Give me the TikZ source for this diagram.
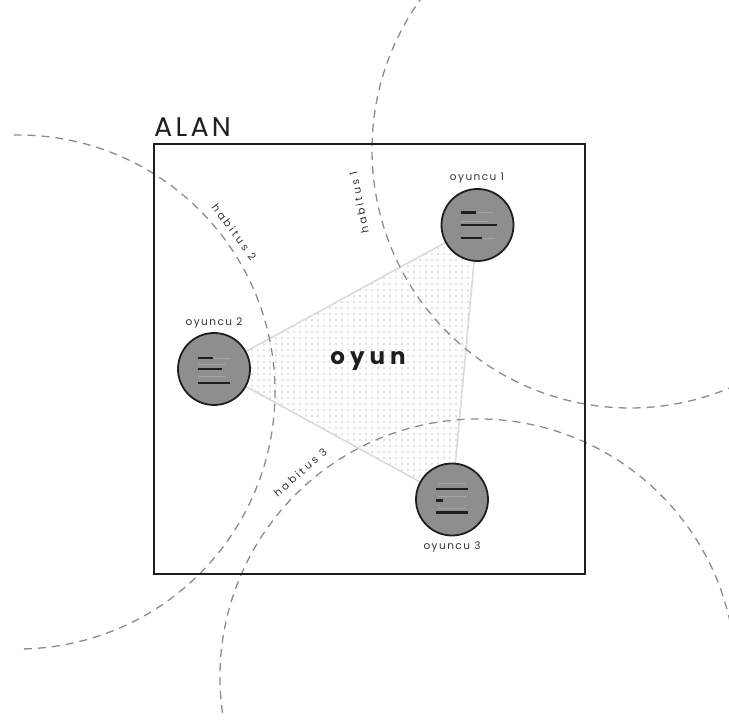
\documentclass[tikz,border=0pt]{standalone}
\usepackage{fontspec}
\setmainfont{Poppins}
\usetikzlibrary{calc,patterns.meta,backgrounds}
\definecolor{ink}{HTML}{1E1E1E}
\definecolor{disc}{HTML}{8E8E8E}
\definecolor{habgray}{HTML}{8C8C8C}
\definecolor{edgegray}{HTML}{DADADA}
\definecolor{dotgray}{HTML}{C2C2C2}
\definecolor{note}{HTML}{333333}

\begin{document}
\begin{tikzpicture}[x=1pt,y=1pt,
  player/.style={circle,draw=ink,line width=1.8pt,minimum size=72pt,inner sep=0pt,fill=disc},
  tag/.style={font=\addfontfeature{LetterSpace=14}\fontsize{10.5}{12}\selectfont,text=note,inner sep=0pt},
  habtag/.style={font=\addfontfeature{LetterSpace=24}\fontsize{10.5}{12}\selectfont,text=note,inner sep=0pt},
  habitus/.style={draw=habgray,line width=1.3pt,dash pattern=on 8pt off 6pt},
  bar/.style={draw=ink,line width=2.8pt},
  faint/.style={draw=ink!40,line width=0.7pt},
]
  \useasboundingbox (0,0) rectangle (729,722);
  \coordinate (h1) at (630,572);
  \coordinate (h2) at (18,330);
  \coordinate (h3) at (478,45);

  \begin{scope}
    \clip (0,0) rectangle (729,722);
    \draw[habitus] ($(h1)+(140:258)$) arc[start angle=140,end angle=295,radius=258];
    \draw[habitus] ($(h2)+(91:257)$) arc[start angle=91,end angle=-90,radius=257];
    \draw[habitus] ($(h3)+(188:258)$) arc[start angle=188,end angle=10,radius=258];
  \end{scope}

  \node[draw=ink,line width=2.8pt,minimum width=431pt,minimum height=430pt,inner sep=0pt] (field) at (369.5,363) {};
  \node[anchor=base west,inner sep=0pt,text=ink,font=\addfontfeature{LetterSpace=12}\fontsize{27}{28}\selectfont] (alan) at (154,585) {ALAN};

  \node[player] (p1) at (477.5,497) {};
  \node[player] (p2) at (214,353) {};
  \node[player] (p3) at (452,222.5) {};
  \node[tag] (t1) at (477,544) {oyuncu 1};
  \node[tag] (t2) at (214,399) {oyuncu 2};
  \node[tag] (t3) at (452,175) {oyuncu 3};

  \begin{scope}[on background layer]
    \path[draw=edgegray,line width=1.6pt,pattern={Dots[distance=6pt,radius=0.8pt]},pattern color=dotgray]
      (p1.center) -- (p2.center) -- (p3.center) -- cycle;
  \end{scope}
  \node[inner sep=0pt,text=ink,font=\bfseries\addfontfeature{LetterSpace=22}\fontsize{23}{24}\selectfont] (game) at (368,361) {oyun};

  \begin{scope}[shift={(p1.center)}]
    \draw[faint] (-1,12.5) -- (15,12.5) (-17,4) -- (10,4) (5,-13) -- (17,-13);
    \draw[bar] (-17,12.5) -- (-2,12.5);
    \draw[bar] (-17,0) -- (19,0);
    \draw[bar] (-17,-13) -- (4,-13);
  \end{scope}
  \begin{scope}[shift={(p2.center)}]
    \draw[faint] (0,11) -- (16,11) (-16,5) -- (12,5) (-16,-7) -- (12,-7);
    \draw[bar] (-16,11) -- (-1,11);
    \draw[bar] (-16,0) -- (8,0);
    \draw[bar] (-16,-14) -- (16,-14);
  \end{scope}
  \begin{scope}[shift={(p3.center)}]
    \draw[faint] (-14,16.5) -- (14,16.5) (-14,3) -- (14,3) (-14,-8.5) -- (14,-8.5);
    \draw[bar] (-16,10.5) -- (16,10.5);
    \draw[bar] (-16,-1) -- (-9,-1);
    \draw[bar] (-16,-13) -- (16,-13);
  \end{scope}

  \node[habtag,rotate=101] (ht1) at ($(h1)+(191:276)$) {habitus 1};
  \node[habtag,rotate=-53.5] (ht2) at ($(h2)+(36.5:269)$) {habitus 2};
  \node[habtag,rotate=41] (ht3) at ($(h3)+(131:271)$) {habitus 3};
\end{tikzpicture}
\end{document}
